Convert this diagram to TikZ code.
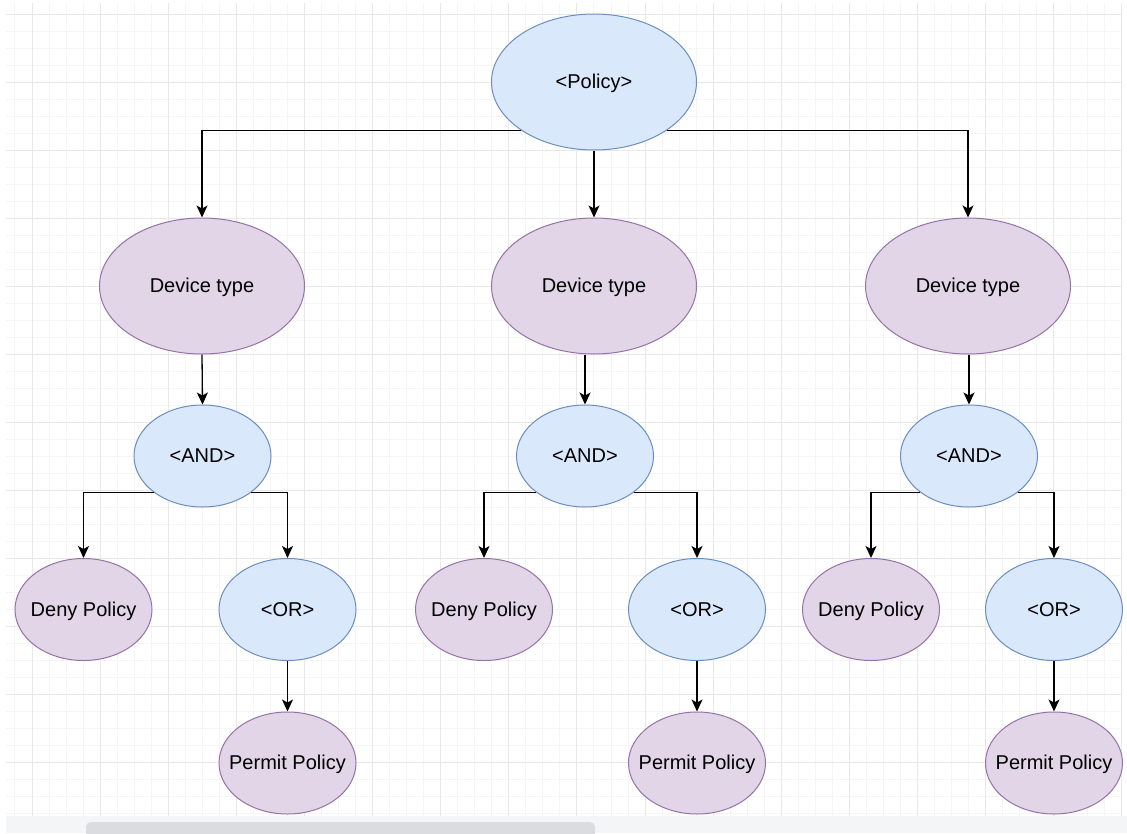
\documentclass[tikz,border=0pt]{standalone}
\usepackage{fontspec}
\setmainfont{Liberation Sans}
\usetikzlibrary{shapes.geometric,arrows.meta}
\definecolor{blueFill}{HTML}{DAE8FC}
\definecolor{blueLine}{HTML}{6C8EBF}
\definecolor{lilacFill}{HTML}{E1D5E7}
\definecolor{lilacLine}{HTML}{9673A6}
\definecolor{gridMinor}{HTML}{F5F5F5}
\definecolor{gridMajor}{HTML}{E8E8E8}
\definecolor{barBand}{HTML}{F4F5F7}
\definecolor{barThumb}{HTML}{DADCE0}
\newcommand{\lbl}[1]{\makebox[0pt]{#1}}
\tikzset{
  oval/.style={ellipse, draw, line width=1pt, inner sep=0pt, text height=13pt, text depth=0pt,
    font=\fontsize{20}{24}\selectfont, text=black},
  logic/.style={oval, fill=blueFill, draw=blueLine},
  leaf/.style={oval, fill=lilacFill, draw=lilacLine},
  big/.style={minimum width=205pt, minimum height=136pt},
  small/.style={minimum width=137pt, minimum height=102pt},
  arr/.style={line width=1.3pt, draw=black, -{Stealth[length=12pt,width=11pt,inset=3pt]}},
}
\begin{document}
\begin{tikzpicture}[x=1pt,y=-1pt]
  \useasboundingbox (0,0) rectangle (1127,833);
  \fill[white] (0,0) rectangle (1127,833);
  % background grid of the canvas
  \begin{scope}
    \clip (6,3) rectangle (1122,816);
    \foreach \i in {-2,...,66} {
      \pgfmathsetmacro\gx{32+17.03*\i}
      \draw[gridMinor, line width=1pt] (\gx,3) -- (\gx,816);
    }
    \foreach \i in {-1,...,48} {
      \pgfmathsetmacro\gy{14+17.0*\i}
      \draw[gridMinor, line width=1pt] (6,\gy) -- (1122,\gy);
    }
    \foreach \i in {0,...,16} {
      \pgfmathsetmacro\gx{32+68.12*\i}
      \draw[gridMajor, line width=1pt] (\gx,3) -- (\gx,816);
    }
    \foreach \i in {0,...,12} {
      \pgfmathsetmacro\gy{14+68*\i}
      \draw[gridMajor, line width=1pt] (6,\gy) -- (1122,\gy);
    }
  \end{scope}
  % scroll bar
  \fill[barBand] (6,816) rectangle (1127,833);
  \fill[barThumb, rounded corners=5pt] (86,822) rectangle (595,838);

  % root
  \node[logic, big] (pol) at (594,82) {\lbl{<Policy>}};
  % device types
  \node[leaf, big] (dl) at (202,286) {\lbl{Device type}};
  \node[leaf, big] (dm) at (594,286) {\lbl{Device type}};
  \node[leaf, big] (dr) at (968,286) {\lbl{Device type}};
  % AND nodes
  \node[logic, small] (al) at (202.5,456) {\lbl{<AND>}};
  \node[logic, small] (am) at (585,456) {\lbl{<AND>}};
  \node[logic, small] (ar) at (969,456) {\lbl{<AND>}};
  % deny leaves
  \node[leaf, small] (nl) at (83.5,609.5) {\lbl{Deny Policy}};
  \node[leaf, small] (nm) at (484,609.5) {\lbl{Deny Policy}};
  \node[leaf, small] (nr) at (871,609.5) {\lbl{Deny Policy}};
  % OR nodes
  \node[logic, small] (ol) at (287.5,609.5) {\lbl{<OR>}};
  \node[logic, small] (om) at (697,609.5) {\lbl{<OR>}};
  \node[logic, small] (or) at (1054,609.5) {\lbl{<OR>}};
  % permit leaves
  \node[leaf, small] (pl) at (287.5,763) {\lbl{Permit Policy}};
  \node[leaf, small] (pm) at (697,763) {\lbl{Permit Policy}};
  \node[leaf, small] (pr) at (1054,763) {\lbl{Permit Policy}};

  % connectors
  \draw[arr] (pol.south west) -| (dl.north);
  \draw[arr] (pol.south) -- (dm.north);
  \draw[arr] (pol.south east) -| (dr.north);

  \draw[arr] (dl.south) -- (al.north);
  \draw[arr] (dm.south -| am.north) -- (am.north);
  \draw[arr] (dr.south -| ar.north) -- (ar.north);

  \draw[arr] (al.south west) -| (nl.north);
  \draw[arr] (al.south east) -| (ol.north);
  \draw[arr] (am.south west) -| (nm.north);
  \draw[arr] (am.south east) -| (om.north);
  \draw[arr] (ar.south west) -| (nr.north);
  \draw[arr] (ar.south east) -| (or.north);

  \draw[arr] (ol.south) -- (pl.north);
  \draw[arr] (om.south) -- (pm.north);
  \draw[arr] (or.south) -- (pr.north);
\end{tikzpicture}
\end{document}
